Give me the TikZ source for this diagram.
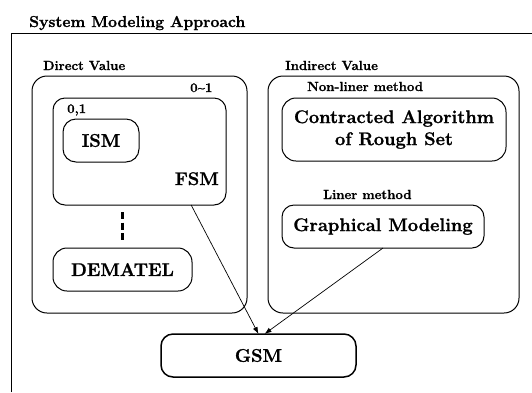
\documentclass[tikz,border=0pt]{standalone}
\usepackage{fontspec}
\setmainfont{Latin Modern Roman}[BoldFeatures={FakeBold=1.2}]
\usetikzlibrary{arrows.meta,calc}
\tikzset{
  box/.style={draw, line width=1pt, rounded corners=#1, inner sep=0pt, outer sep=0pt},
  box/.default=12pt,
  bigtext/.style={font=\fontsize{18.3}{22}\selectfont\bfseries},
  smalltext/.style={font=\fontsize{13.2}{15}\selectfont\bfseries, inner sep=0pt},
  titletext/.style={font=\fontsize{15.8}{18}\selectfont\bfseries, inner sep=0pt},
  conn/.style={-{Latex[length=7pt,width=5pt]}, line width=0.7pt},
  dashpat/.style={line width=2.4pt, dash pattern=on 7pt off 3.5pt, shorten <=7pt, shorten >=7pt}
}
\begin{document}
\begin{tikzpicture}[x=1pt,y=-1pt]
\useasboundingbox (0,0) rectangle (532,392);
% outer frame
\coordinate (fbl) at (11,392);
\coordinate (ftl) at (11,33);
\coordinate (ftr) at (532,33);
\draw[line width=1pt] (fbl) -- (ftl) -- (ftr);
\node[titletext, anchor=base west] (title) at (29,27) {System Modeling Approach};

% direct value
\node[box=15pt, minimum width=215pt, minimum height=237pt] (direct) at (139.5,194.5) {};
\node[smalltext, anchor=base west] (dvlabel) at (43,70) {Direct Value};
\node[smalltext, anchor=base west] (r01) at (190,92) {0\textasciitilde1};
\node[box=12pt, minimum width=173pt, minimum height=107pt] (fsm) at (139.5,151.5) {};
\node[smalltext, anchor=base west] (b01) at (67,113) {0,1};
\node[box=13pt, bigtext, minimum width=76pt, minimum height=43pt] (ism) at (101,140.5) {ISM};
\node[bigtext, inner sep=0pt, anchor=base east] (fsmlabel) at (219,185) {FSM};
\node[box=14pt, bigtext, minimum width=139pt, minimum height=43pt] (dem) at (122.5,269.5) {DEMATEL};
\draw[dashpat] (dem.north |- fsm.south) -- (dem.north);

% indirect value
\node[box=15pt, minimum width=251pt, minimum height=237pt] (indirect) at (393.5,194.5) {};
\node[smalltext, anchor=base west] (ivlabel) at (285,70) {Indirect Value};
\node[smalltext, anchor=base west] (nonlin) at (307,91) {Non-liner method};
\node[box=14pt, bigtext, align=center, minimum width=224pt, minimum height=63pt] (rough) at (394,129.5) {Contracted Algorithm\\of Rough Set};
\node[smalltext, anchor=base west] (lin) at (323,199) {Liner method};
\node[box=12pt, bigtext, minimum width=202pt, minimum height=43pt] (gm) at (383,226.5) {Graphical Modeling};

% GSM
\node[box=12pt, line width=1.5pt, bigtext, minimum width=195pt, minimum height=43pt] (gsm) at (258.5,355.5) {GSM};
\coordinate (gsmin) at ($(gsm.north)+(6,0)$);

\draw[conn] (fsm.-46) -- (gsm.north);
\draw[conn] (gm.south) -- (gsmin);
\end{tikzpicture}
\end{document}
